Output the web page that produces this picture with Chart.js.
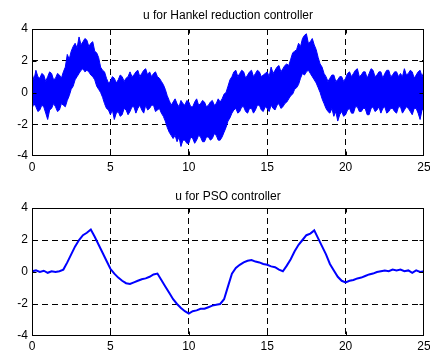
<!DOCTYPE html>
<html>
<head>
<meta charset="utf-8">
<script src="https://cdn.jsdelivr.net/npm/chart.js@4.4.1/dist/chart.umd.min.js"></script>
<style>
body { margin: 0; background: #fff; width: 430px; height: 353px; overflow: hidden; }
canvas { position: absolute; left: 0; }
#graficoHankel { top: 0; }
#graficoPso { top: 176px; }
</style>
</head>
<body>
<canvas id="graficoHankel" width="430" height="176"></canvas>
<canvas id="graficoPso" width="430" height="177"></canvas>
<script>
"use strict"

// paso de muestreo (s) de cada serie
const pasoHankel = 0.125;
const pasoPso = 0.25;
const xTicks = [0, 5, 10, 15, 20, 25];
const yTicks = [-4, -2, 0, 2, 4];

const tituloHankel = 'u for Hankel reduction controller';
const tituloPso = 'u for PSO controller';

// banda de ruido del control Hankel: borde superior e inferior (leidos a ojo)
const uHankelSup = [1.2, 0.8, 1.4, 1.0, 0.9, 1.2, 1.1, 0.7, 1.0, 1.3,
    1.2, 0.8, 0.9, 1.2, 1.1, 0.9, 1.3, 1.6, 2.4, 2.1,
    2.6, 2.9, 3.1, 2.8, 3.5, 3.0, 3.2, 3.4, 3.3, 2.9,
    3.1, 3.2, 2.6, 2.5, 2.2, 1.6, 1.4, 1.3, 0.9, 0.6,
    0.7, 1.0, 0.9, 0.6, 0.8, 1.1, 1.0, 0.7, 0.9, 1.0,
    1.3, 1.0, 1.1, 1.3, 1.4, 1.0, 1.2, 1.4, 1.5, 1.1,
    1.3, 1.0, 1.2, 1.3, 1.0, 0.9, 0.7, 0.5, 0.2, -0.2,
    -0.5, -0.8, -0.6, -0.4, -0.7, -0.9, -0.5, -0.7, -0.8, -0.5,
    -0.6, -0.9, -0.9, -0.6, -0.4, -0.8, -0.7, -0.5, -0.6, -0.9,
    -0.8, -0.6, -0.5, -0.8, -0.7, -0.4, -0.6, -0.4, -0.1, 0.0,
    0.4, 0.8, 1.0, 1.3, 1.4, 1.0, 1.2, 1.4, 1.3, 0.9,
    1.1, 1.3, 1.4, 1.0, 1.2, 1.4, 1.3, 1.0, 1.1, 1.2,
    1.3, 1.0, 1.6, 1.2, 1.4, 1.6, 1.7, 1.3, 1.5, 1.7,
    1.8, 1.7, 2.1, 2.5, 2.6, 2.7, 3.1, 2.9, 3.4, 3.6,
    3.7, 3.1, 3.2, 3.4, 3.0, 2.7, 2.2, 1.8, 1.6, 1.2,
    1.0, 0.7, 0.9, 1.1, 1.1, 0.7, 0.8, 1.0, 1.0, 0.7,
    0.9, 1.2, 1.3, 1.0, 1.2, 1.4, 1.5, 1.0, 1.1, 1.3,
    1.3, 0.9, 1.2, 1.5, 1.4, 1.0, 1.1, 1.3, 1.3, 0.9,
    1.2, 1.4, 1.4, 1.0, 1.1, 1.3, 1.3, 1.0, 1.2, 1.0,
    1.5, 1.1, 1.2, 1.4, 1.3, 0.9, 1.1, 1.3, 1.4, 1.0,
    1.3];
const uHankelInf = [-1.0, -0.7, -0.9, -1.2, -1.1, -0.8, -0.9, -1.3, -1.7, -1.1,
    -1.0, -0.7, -0.9, -1.2, -1.1, -0.7, -0.8, -0.9, -0.5, -0.2,
    0.2, 0.4, 0.8, 1.0, 1.2, 1.4, 1.5, 1.3, 1.4, 1.3,
    1.1, 1.0, 0.8, 0.4, 0.2, 0.0, -0.3, -0.7, -1.0, -1.1,
    -1.4, -1.1, -1.7, -1.3, -1.2, -1.5, -1.4, -1.0, -1.1, -1.4,
    -1.2, -0.9, -0.9, -1.3, -1.0, -0.8, -1.1, -1.3, -0.8, -1.1,
    -1.0, -0.8, -0.8, -1.2, -1.1, -1.0, -1.3, -1.5, -1.8, -2.2,
    -2.5, -2.7, -2.9, -2.7, -3.1, -2.8, -3.4, -3.0, -3.0, -3.2,
    -3.2, -2.8, -2.9, -3.2, -3.0, -2.7, -2.8, -3.1, -3.1, -2.8,
    -2.8, -3.0, -2.9, -2.6, -2.7, -3.0, -3.0, -2.8, -2.5, -2.2,
    -1.8, -1.6, -1.3, -1.1, -1.0, -1.3, -1.2, -0.9, -0.9, -1.2,
    -1.3, -1.0, -1.0, -1.3, -1.1, -0.8, -0.8, -1.1, -1.2, -0.9,
    -1.0, -1.2, -0.8, -1.0, -1.1, -0.8, -0.7, -1.0, -0.9, -0.7,
    -0.6, -0.4, -0.2, -0.1, 0.2, 0.3, 0.5, 0.9, 1.2, 1.1,
    1.3, 1.4, 1.2, 1.0, 0.8, 0.6, 0.3, 0.0, -0.4, -0.7,
    -1.0, -1.2, -1.3, -1.0, -1.5, -1.2, -1.8, -1.4, -1.2, -1.5,
    -1.4, -1.1, -1.0, -1.3, -1.3, -0.9, -0.9, -1.2, -1.2, -1.0,
    -1.0, -1.4, -1.4, -1.0, -0.9, -1.2, -1.1, -0.9, -1.3, -1.0,
    -0.9, -1.3, -1.2, -1.0, -1.0, -1.2, -1.3, -0.9, -0.9, -1.3,
    -1.1, -0.9, -1.0, -1.2, -1.4, -1.0, -1.0, -1.3, -1.7, -1.1,
    -1.0];

// control PSO
const uPso = [0.05, 0.1, 0.0, 0.08, -0.05, 0.05, 0.0, 0.05, 0.15, 0.6,
    1.1, 1.6, 2.0, 2.3, 2.45, 2.65, 2.2, 1.7, 1.2, 0.7,
    0.2, -0.1, -0.35, -0.55, -0.7, -0.75, -0.65, -0.55, -0.45, -0.4,
    -0.3, -0.15, -0.1, -0.5, -0.9, -1.3, -1.7, -2.0, -2.25, -2.45,
    -2.6, -2.45, -2.4, -2.3, -2.3, -2.2, -2.1, -2.05, -2.0, -1.7,
    -0.9, -0.1, 0.25, 0.45, 0.6, 0.7, 0.75, 0.65, 0.6, 0.5,
    0.45, 0.35, 0.3, 0.15, 0.05, 0.4, 0.8, 1.3, 1.7, 2.0,
    2.3, 2.4, 2.6, 2.1, 1.6, 1.1, 0.5, 0.1, -0.3, -0.55,
    -0.65, -0.55, -0.5, -0.4, -0.35, -0.25, -0.15, -0.1, 0.0, 0.05,
    0.1, 0.05, 0.15, 0.1, 0.15, 0.05, 0.1, -0.05, 0.1, 0.0,
    0.05];

const azul = '#0000ff';
const fuente = { family: '"Liberation Sans", Arial, sans-serif', size: 12 };

function puntos(valores, paso) {
    return valores.map((v, i) => ({ x: i * paso, y: v }));
}

// marco, marcas interiores y titulo (estilo matlab)
const marco = {
    id: 'marco',
    afterDraw(chart, args, opts) {
        const { ctx, chartArea: a, scales } = chart;
        ctx.save();
        ctx.strokeStyle = '#000';
        ctx.lineWidth = 1;
        ctx.setLineDash([]);
        const l = Math.round(a.left) + 0.5, r = Math.round(a.right) - 0.5;
        const t = Math.round(a.top) + 0.5, b = Math.round(a.bottom) - 0.5;
        ctx.strokeRect(l, t, r - l, b - t);
        ctx.beginPath();
        xTicks.slice(1, -1).forEach(v => {
            const px = Math.round(scales.x.getPixelForValue(v)) + 0.5;
            ctx.moveTo(px, b); ctx.lineTo(px, b - 4);
            ctx.moveTo(px, t); ctx.lineTo(px, t + 4);
        });
        yTicks.slice(1, -1).forEach(v => {
            const py = Math.round(scales.y.getPixelForValue(v)) + 0.5;
            ctx.moveTo(l, py); ctx.lineTo(l + 4, py);
            ctx.moveTo(r, py); ctx.lineTo(r - 4, py);
        });
        ctx.stroke();
        ctx.fillStyle = '#000';
        ctx.font = `${fuente.size}px ${fuente.family}`;
        ctx.textAlign = 'center';
        ctx.textBaseline = 'middle';
        ctx.fillText(opts.texto, (a.left + a.right) / 2, a.top - opts.alto);
        ctx.restore();
    }
};

function ejes(altoX, padX) {
    const gridColor = c => (c.tick.value === 0 || c.tick.value === 25 || c.tick.value === 4 || c.tick.value === -4) ? 'rgba(0,0,0,0)' : '#000';
    return {
        x: {
            type: 'linear', min: 0, max: 25,
            afterBuildTicks: s => { s.ticks = xTicks.map(v => ({ value: v })); },
            ticks: { color: '#000', font: fuente, padding: padX, maxRotation: 0, autoSkip: false },
            grid: { color: gridColor, drawTicks: false, lineWidth: 1 },
            border: { display: false, dash: [6, 4] },
            afterFit: s => { s.height = altoX; s.paddingLeft = 0; s.paddingRight = 0; }
        },
        y: {
            type: 'linear', min: -4, max: 4,
            afterBuildTicks: s => { s.ticks = yTicks.map(v => ({ value: v })); },
            ticks: { color: '#000', font: fuente, padding: 4 },
            grid: { color: gridColor, drawTicks: false, lineWidth: 1 },
            border: { display: false, dash: [6, 4] },
            afterFit: s => { s.width = 32; s.paddingTop = 0; s.paddingBottom = 0; }
        }
    };
}

new Chart(document.getElementById('graficoHankel'), {
    type: 'line',
    data: {
        datasets: [{
            data: puntos(uHankelSup, pasoHankel),
            borderColor: azul, backgroundColor: azul, borderWidth: 1,
            pointRadius: 0, fill: '+1', tension: 0
        }, {
            data: puntos(uHankelInf, pasoHankel),
            borderColor: azul, borderWidth: 1,
            pointRadius: 0, fill: false, tension: 0
        }]
    },
    options: {
        responsive: false, animation: false,
        layout: { padding: { top: 29, right: 6, left: 0, bottom: 0 }, autoPadding: false },
        scales: ejes(20, 4),
        plugins: { legend: { display: false }, tooltip: { enabled: false }, marco: { texto: tituloHankel, alto: 13 } }
    },
    plugins: [marco]
});

new Chart(document.getElementById('graficoPso'), {
    type: 'line',
    data: {
        datasets: [{
            data: puntos(uPso, pasoPso),
            borderColor: azul, borderWidth: 2,
            pointRadius: 0, fill: false, tension: 0
        }]
    },
    options: {
        responsive: false, animation: false,
        layout: { padding: { top: 32, right: 6, left: 0, bottom: 0 }, autoPadding: false },
        scales: ejes(17, 3),
        plugins: { legend: { display: false }, tooltip: { enabled: false }, marco: { texto: tituloPso, alto: 11 } }
    },
    plugins: [marco]
});
</script>
</body>
</html>
